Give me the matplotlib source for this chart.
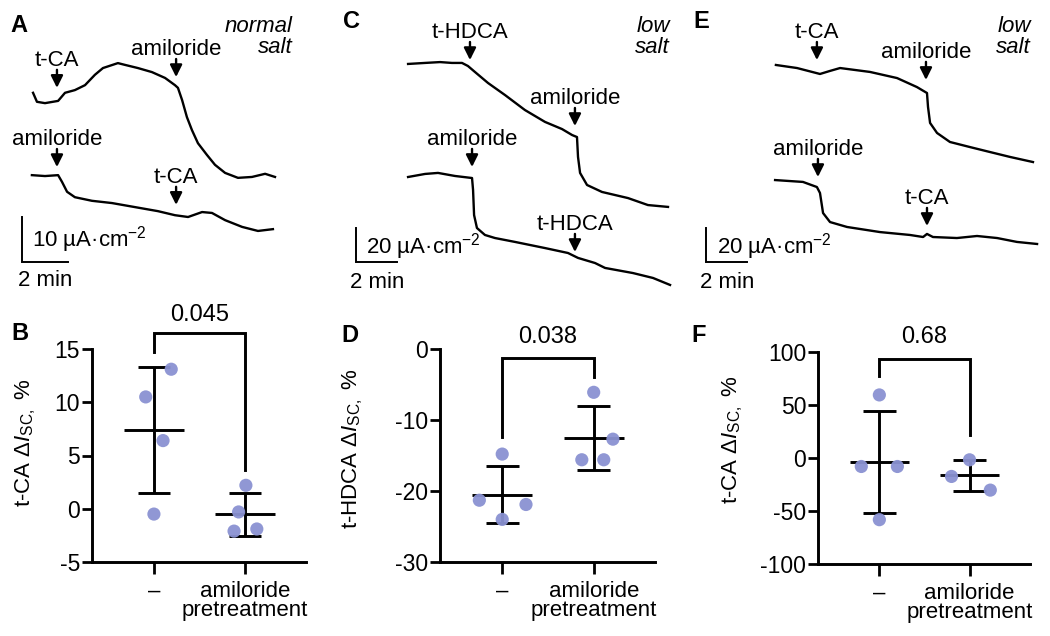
import numpy as np
import matplotlib
matplotlib.use("Agg")
import matplotlib.pyplot as plt

plt.rcParams['font.family'] = ['Liberation Sans', 'DejaVu Sans']
plt.rcParams['mathtext.fontset'] = 'custom'
plt.rcParams['mathtext.rm'] = 'Liberation Sans'
plt.rcParams['mathtext.it'] = 'Liberation Sans:italic'
plt.rcParams['mathtext.bf'] = 'Liberation Sans:bold'
plt.rcParams['axes.unicode_minus'] = False

# ---------------- data: traces (time in min, current in uA/cm2) ----------------
A_top_t = [0.48, 0.65, 1.00, 1.57, 1.87, 2.30, 2.74, 3.17, 3.52, 4.17, 4.48, 5.04, 5.65, 6.22,
           6.65, 6.78, 6.96, 7.17, 7.39, 7.65, 8.04, 8.39, 8.83, 9.39, 10.00, 10.57, 11.00]
A_top_I = [37.6, 35.6, 35.3, 35.8, 37.6, 38.2, 39.3, 41.6, 43.1, 44.2, 43.8, 43.1, 42.2, 40.9,
           39.3, 38.7, 36.0, 32.2, 29.3, 26.4, 23.8, 21.6, 19.8, 18.7, 18.9, 19.6, 18.9]
A_bot_t = [0.43, 1.00, 1.57, 1.74, 1.96, 2.30, 3.04, 3.91, 4.91, 5.91, 6.65, 7.22, 7.83, 8.26,
           8.83, 9.57, 10.26, 10.91]
A_bot_I = [19.3, 19.1, 19.3, 17.8, 15.6, 14.4, 13.6, 13.1, 12.2, 11.3, 10.4, 10.0, 11.1, 10.9,
           9.3, 7.8, 6.9, 7.3]

C_top_t = [2.54, 3.37, 4.10, 4.68, 5.17, 5.46, 5.80, 6.44, 7.27, 8.24, 9.22, 10.05, 10.54, 10.78,
           10.83, 10.93, 11.27, 12.00, 13.27, 14.24, 15.22]
C_top_I = [116.5, 117.1, 117.6, 117.1, 117.1, 115.3, 111.8, 105.3, 98.2, 89.4, 82.4, 78.2, 74.7,
           73.5, 61.8, 52.4, 45.3, 41.2, 37.6, 33.5, 32.4]
C_bot_t = [2.54, 3.37, 4.00, 4.83, 5.66, 5.71, 5.76, 5.90, 6.29, 6.78, 7.76, 9.22, 10.34, 10.83,
           11.66, 12.15, 13.51, 14.49, 15.32]
C_bot_I = [50.0, 51.8, 52.4, 50.6, 49.4, 42.4, 27.6, 20.0, 15.9, 14.1, 11.8, 8.2, 5.3, 2.4,
           -0.6, -3.5, -6.5, -9.4, -13.5]

E_top_t = [3.41, 4.44, 5.56, 6.05, 6.54, 8.00, 9.32, 10.29, 10.78, 10.83, 10.93, 11.27, 11.90,
           12.88, 13.85, 14.83, 15.95]
E_top_I = [115.9, 114.1, 110.6, 112.4, 114.1, 111.8, 108.2, 102.9, 99.4, 91.2, 81.8, 75.9, 70.6,
           67.6, 64.7, 61.8, 58.8]
E_bot_t = [3.37, 4.73, 5.41, 5.56, 5.71, 6.05, 6.88, 8.49, 9.95, 10.59, 10.78, 11.07, 12.24,
           13.22, 14.20, 15.17, 16.15]
E_bot_I = [48.2, 47.1, 44.1, 40.6, 28.8, 23.5, 20.6, 17.6, 15.9, 14.7, 16.5, 14.7, 14.1,
           15.3, 14.1, 11.8, 10.6]

# events: (label, time, arrow tip current)
A_events = [("t-CA", 1.52, 38.7), ("amiloride", 6.70, 41.1),
            ("amiloride", 1.52, 21.1), ("t-CA", 6.70, 12.7)]
C_events = [("t-HDCA", 5.56, 118.8), ("amiloride", 10.68, 80.0),
            ("amiloride", 5.66, 55.9), ("t-HDCA", 10.68, 5.9)]
E_events = [("t-CA", 5.41, 118.8), ("amiloride", 10.73, 107.1),
            ("amiloride", 5.46, 50.0), ("t-CA", 10.78, 21.2)]

# ---------------- data: summary panels ----------------
categories = ["\u2013", "amiloride\npretreatment"]
B_ctrl = [13.1, 10.5, 6.4, -0.5]
B_amil = [2.2, -0.3, -2.1, -1.9]
B_ctrl_jit = [0.19, -0.09, 0.10, 0.0]
B_amil_jit = [0.01, -0.07, -0.12, 0.13]
D_ctrl = [-14.8, -21.3, -21.9, -24.0]
D_amil = [-6.1, -12.7, -15.6, -15.6]
D_ctrl_jit = [0.0, -0.25, 0.26, 0.0]
D_amil_jit = [0.0, 0.21, -0.13, 0.11]
F_ctrl = [59.5, -8.0, -8.0, -58.2]
F_amil = [-1.7, -17.4, -30.3]
F_ctrl_jit = [0.0, -0.2, 0.2, 0.0]
F_amil_jit = [0.0, -0.2, 0.23]
p_values = ["0.045", "0.038", "0.68"]

W, H = 1050, 636
fig = plt.figure(figsize=(W / 100, H / 100), dpi=100)

FS = 16
TICKFS = 16.5
DOT = '#8a92d2'


def trace_axes(x0, x1, y0, y1, ox, oy, ppm, ppu):
    ax = fig.add_axes([x0 / W, 1 - y1 / H, (x1 - x0) / W, (y1 - y0) / H])
    ax.set_xlim((x0 - ox) / ppm, (x1 - ox) / ppm)
    ax.set_ylim((oy - y1) / ppu, (oy - y0) / ppu)
    ax.axis('off')
    return ax


def draw_traces(ax, traces, events, vbar, vlabel, lab_vy, lab_tx):
    for t, I in traces:
        ax.plot(t, I, color='k', lw=1.7, solid_joinstyle='round')
    for label, t, tip in events:
        ax.annotate('', xy=(t, tip), xytext=(0, 13), textcoords='offset points',
                    arrowprops=dict(arrowstyle='-|>,head_length=0.6,head_width=0.3',
                                    lw=1.7, color='k', shrinkA=0, shrinkB=0,
                                    mutation_scale=12))
        ax.annotate(label, xy=(t, tip), xytext=(0, 16), textcoords='offset points',
                    ha='center', va='baseline', fontsize=FS)
    # scale bar
    ax.plot([0, 0, 2], [vbar, 0, 0], color='k', lw=1.4, solid_joinstyle='miter')
    ax.text(lab_tx, lab_vy, vlabel, fontsize=FS, ha='left', va='center')


SUP = '$^{\\mathregular{-2}}$'

axA = trace_axes(0, 340, 0, 300, 22, 262, 23.0, 4.5)
draw_traces(axA, [(A_top_t, A_top_I), (A_bot_t, A_bot_I)], A_events, 10,
            '10 \u00b5A\u00b7cm' + SUP, 4.9, 0.43)
axA.text(-0.17, -4.0, '2 min', fontsize=FS, ha='left', va='center')

axC = trace_axes(340, 690, 0, 300, 356, 262, 20.5, 1.7)
draw_traces(axC, [(C_top_t, C_top_I), (C_bot_t, C_bot_I)], C_events, 20,
            '20 \u00b5A\u00b7cm' + SUP, 8.8, 0.49)
axC.text(-0.29, -11.8, '2 min', fontsize=FS, ha='left', va='center')

axE = trace_axes(690, 1050, 0, 300, 706, 262, 20.5, 1.7)
draw_traces(axE, [(E_top_t, E_top_I), (E_bot_t, E_bot_I)], E_events, 20,
            '20 \u00b5A\u00b7cm' + SUP, 8.8, 0.54)
axE.text(-0.29, -11.8, '2 min', fontsize=FS, ha='left', va='center')


def ftext(x, y, s, **kw):
    fig.text(x / W, 1 - y / H, s, **kw)


for (x, y, s) in [(19, 25, 'A'), (351, 21, 'C'), (701, 22, 'E'),
                  (20, 333, 'B'), (350, 335, 'D'), (699, 336, 'F')]:
    ftext(x, y, s, fontsize=17, fontweight='bold', ha='center', va='center')

for (x, s) in [(293, 'normal\nsalt'), (670, 'low\nsalt'), (1031, 'low\nsalt')]:
    ftext(x, 37, s, fontsize=FS, style='italic', ha='right', va='center',
          multialignment='right', linespacing=0.95)

ylab_tCA = 't-CA \u0394$\\mathit{I}_{\\mathrm{SC,}}$ %'
ylab_tHDCA = 't-HDCA \u0394$\\mathit{I}_{\\mathrm{SC,}}$ %'


def dot_panel(box, groups, jits, ylim, yticks, bracket, ptext_y, p, ylabel, ylc):
    x0, x1, ytop, ybot = box
    ax = fig.add_axes([x0 / W, 1 - ybot / H, (x1 - x0) / W, (ybot - ytop) / H])
    ax.set_xlim(-0.68, 1.67)
    ax.set_ylim(*ylim)
    ax.set_yticks(yticks)
    ax.set_xticks([0, 1])
    ax.set_xticklabels(categories, fontsize=FS, linespacing=0.92)
    ax.tick_params(axis='y', labelsize=TICKFS, length=7, width=2, pad=1.5)
    ax.tick_params(axis='x', length=8.5, width=2, pad=5)
    for s in ['top', 'right']:
        ax.spines[s].set_visible(False)
    for s in ['left', 'bottom']:
        ax.spines[s].set_linewidth(2.1)
    for i, (vals, jit) in enumerate(zip(groups, jits)):
        v = np.array(vals, dtype=float)
        m = v.mean()
        sd = v.std(ddof=1)
        kw = dict(color='k', lw=2.1, solid_capstyle='butt', zorder=2)
        ax.plot([i, i], [m - sd, m + sd], **kw)
        ax.plot([i - 0.18, i + 0.18], [m + sd, m + sd], **kw)
        ax.plot([i - 0.18, i + 0.18], [m - sd, m - sd], **kw)
        ax.plot([i - 0.33, i + 0.33], [m, m], **kw)
        ax.scatter(i + np.array(jit), v, s=90, color=DOT, edgecolor='none',
                   zorder=3, alpha=0.95, clip_on=False)
    yl, yt, yr = bracket
    ax.plot([0, 0, 1, 1], [yl, yt, yt, yr], color='k', lw=2.1, clip_on=False,
            solid_joinstyle='miter')
    ax.text(0.5, ptext_y, p, ha='center', va='center', fontsize=17, clip_on=False)
    ax.set_ylabel(ylabel, fontsize=FS)
    ax.yaxis.set_label_coords(*ylc)
    return ax


dot_panel((92, 306, 349, 562), [B_ctrl, B_amil], [B_ctrl_jit, B_amil_jit], (-5, 15),
          [-5, 0, 5, 10, 15], (14.7, 16.5, 3.6), 18.2, p_values[0], ylab_tCA, (-0.252, 0.56))
dot_panel((440, 655, 349, 562), [D_ctrl, D_amil], [D_ctrl_jit, D_amil_jit], (-30, 0),
          [-30, -20, -10, 0], (-12.4, -1.27, -3.9), 1.7, p_values[1], ylab_tHDCA, (-0.35, 0.53))
dot_panel((818, 1030, 352, 564), [F_ctrl, F_amil], [F_ctrl_jit, F_amil_jit], (-100, 100),
          [-100, -50, 0, 50, 100], (77.4, 93.4, 21.7), 114, p_values[2], ylab_tCA, (-0.344, 0.585))

fig.savefig('out.png', dpi=100)
